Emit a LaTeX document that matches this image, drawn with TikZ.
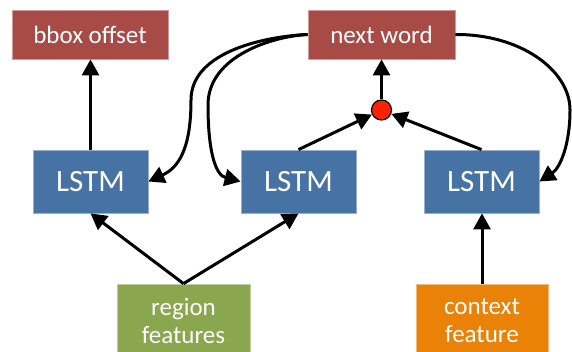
\documentclass[tikz,border=0pt]{standalone}
\usepackage{fontspec}
\setmainfont{Carlito}
\usetikzlibrary{arrows.meta}
\definecolor{boxred}{HTML}{A84B46}
\definecolor{boxblue}{HTML}{4673A3}
\definecolor{boxgreen}{HTML}{8AA64E}
\definecolor{boxorange}{HTML}{EA8208}
\definecolor{dotred}{HTML}{FF2200}
\begin{document}
\begin{tikzpicture}[x=1pt,y=-1pt,
  box/.style={rectangle, fill=#1, draw=#1!55!white, line width=0.8pt,
    text=white, inner sep=0pt, align=center},
  outbox/.style={box=boxred, minimum width=147pt, minimum height=49pt,
    font=\fontsize{25}{30}\selectfont},
  lstm/.style={box=boxblue, minimum width=115pt, minimum height=63pt,
    font=\fontsize{31}{36}\selectfont},
  inbox/.style={minimum width=132pt, minimum height=74pt,
    font=\fontsize{25}{28}\selectfont},
  conn/.style={line width=3pt, -{Triangle[length=16pt,width=17pt]}},
]
\useasboundingbox (0,0) rectangle (572,351);

% outputs
\node[outbox, minimum width=156pt] (bbox) at (90,34.5) {bbox offset};
\node[outbox] (next) at (381.5,34.5) {next word};

% recurrent units
\node[lstm] (l1) at (90.5,181.5) {LSTM};
\node[lstm] (l2) at (298.5,181.5) {LSTM};
\node[lstm] (l3) at (481.5,181.5) {LSTM};

% merge point
\node[circle, fill=dotred, draw=black, line width=1.2pt,
  minimum size=20pt, inner sep=0pt] (dot) at (381.5,110) {};

% inputs
\node[box=boxgreen, inbox, minimum width=133pt] (reg) at (183.5,321) {region\\features};
\node[box=boxorange, inbox] (ctx) at (482,321) {context\\feature};

% straight connectors
\draw[conn] (l1.north) -- (l1.north |- bbox.south);
\draw[conn] (dot.north) -- (next.south);
\draw[conn] (l2.north) -- (dot);
\draw[conn] (l3.north) -- (dot);
\draw[conn] (reg.north) -- (l1.south);
\draw[conn] (reg.north) -- (l2.south);
\draw[conn] (ctx.north) -- (ctx.north |- l3.south);

% feedback of the predicted word
\draw[conn] (next.west) .. controls (270,36) and (191,50) .. (191,100)
  .. controls (191,150) and (178,168) .. (l1.east);
\draw[conn] (next.west) .. controls (275,36) and (208,55) .. (208,105)
  .. controls (208,150) and (215,175) .. (l2.west);
\draw[conn] (next.east) .. controls (520,34) and (570,70) .. (570,110)
  .. controls (570,145) and (560,168) .. (l3.east);
\end{tikzpicture}
\end{document}
